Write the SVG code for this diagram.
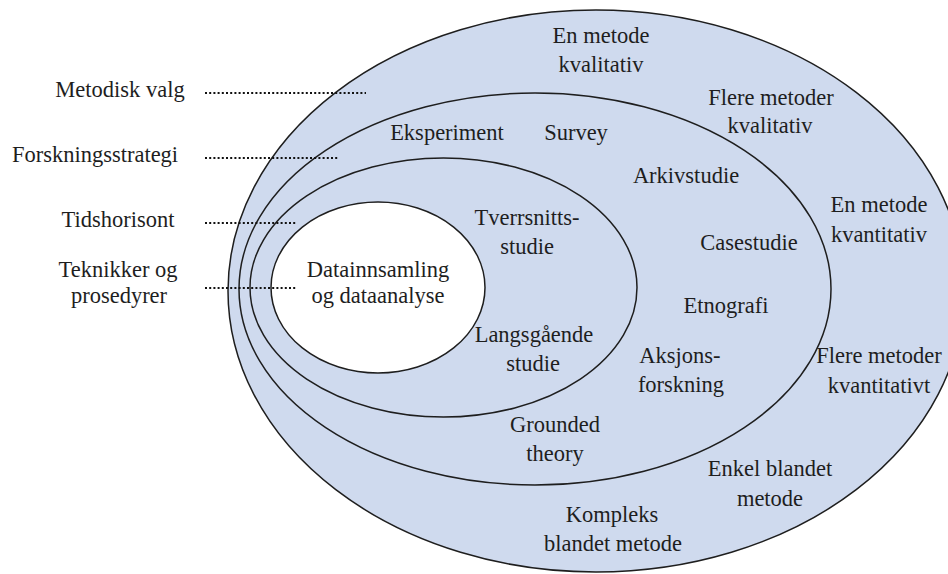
<svg xmlns="http://www.w3.org/2000/svg" width="948" height="574" viewBox="0 0 948 574">
  <style>
    .ring { fill: #cfdaee; stroke: #1e1e1e; stroke-width: 1.5; }
    .core { fill: #ffffff; stroke: #1e1e1e; stroke-width: 1.5; }
    .lbl { font-family: 'Liberation Serif', 'DejaVu Serif', 'Times New Roman', Times, serif; font-size: 22.5px; fill: #1e1e1e; text-anchor: middle; }
    .dots { stroke: #111; stroke-width: 2.2; stroke-dasharray: 2 2.2; fill: none; }
  </style>

  <rect width="948" height="574" fill="#ffffff"/>

  <!-- Outer layer: method choice -->
  <g id="metodisk-valg" class="lbl" font-family="Liberation Serif, serif">
    <ellipse class="ring" cx="596" cy="291" rx="368" ry="281"/>
    <text x="601" y="43">En metode</text>
    <text x="601" y="72">kvalitativ</text>
    <text x="771" y="105">Flere metoder</text>
    <text x="770" y="133">kvalitativ</text>
    <text x="879" y="212">En metode</text>
    <text x="879" y="242">kvantitativ</text>
    <text x="879" y="363">Flere metoder</text>
    <text x="879" y="393">kvantitativt</text>
    <text x="770" y="476">Enkel blandet</text>
    <text x="770" y="506">metode</text>
    <text x="612" y="522">Kompleks</text>
    <text x="613" y="551">blandet metode</text>
  </g>

  <!-- Research strategy layer -->
  <g id="forskningsstrategi" class="lbl" font-family="Liberation Serif, serif">
    <ellipse class="ring" cx="535" cy="289" rx="296" ry="196"/>
    <text x="447" y="140">Eksperiment</text>
    <text x="576" y="140">Survey</text>
    <text x="686" y="183">Arkivstudie</text>
    <text x="749" y="250">Casestudie</text>
    <text x="726" y="313">Etnografi</text>
    <text x="680" y="363">Aksjons-</text>
    <text x="681" y="392">forskning</text>
    <text x="555" y="432">Grounded</text>
    <text x="555" y="461">theory</text>
  </g>

  <!-- Time horizon layer -->
  <g id="tidshorisont" class="lbl" font-family="Liberation Serif, serif">
    <ellipse class="ring" cx="443.5" cy="287.5" rx="193.5" ry="129.5"/>
    <text x="527" y="225">Tverrsnitts-</text>
    <text x="527" y="254">studie</text>
    <text x="534" y="342">Langsgående</text>
    <text x="533" y="371">studie</text>
  </g>

  <!-- Core: techniques and procedures -->
  <g id="datainnsamling" class="lbl" font-family="Liberation Serif, serif">
    <ellipse class="core" cx="378" cy="287.5" rx="107" ry="85.5"/>
    <text x="378" y="277">Datainnsamling</text>
    <text x="378" y="303">og dataanalyse</text>
  </g>

  <!-- Layer names -->
  <g id="lag-navn" class="lbl" font-family="Liberation Serif, serif">
    <text x="120" y="97">Metodisk valg</text>
    <text x="95" y="162">Forskningsstrategi</text>
    <text x="118" y="227">Tidshorisont</text>
    <text x="118" y="277">Teknikker og</text>
    <text x="119" y="303">prosedyrer</text>
  </g>

  <!-- Dotted leaders from names into the layers -->
  <g id="connectors">
    <line class="dots" x1="205" y1="93" x2="366" y2="93"/>
    <line class="dots" x1="205" y1="158" x2="339" y2="158"/>
    <line class="dots" x1="205" y1="223" x2="297" y2="223"/>
    <line class="dots" x1="205" y1="288" x2="297" y2="288"/>
  </g>
</svg>
